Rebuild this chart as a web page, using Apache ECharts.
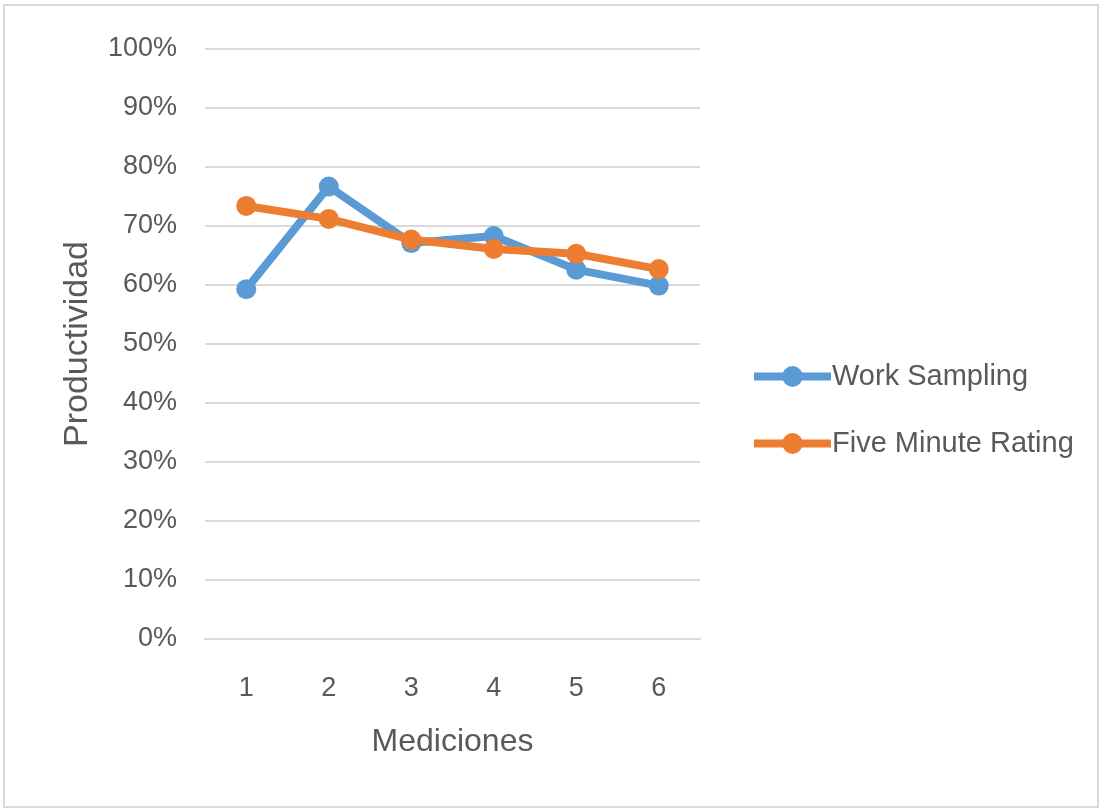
<!DOCTYPE html>
<html>
<head>
<meta charset="utf-8">
<script src="https://cdn.jsdelivr.net/npm/echarts@6/dist/echarts.min.js"></script>
<style>
  html, body { margin: 0; padding: 0; background: #fff; }
  #frame { position: absolute; left: 3px; top: 4px; width: 1096px; height: 804px; border: 2px solid #d9d9d9; box-sizing: border-box; }
  #chart { position: absolute; left: 0; top: 0; width: 1102px; height: 812px; }
</style>
</head>
<body>
<div id="frame"></div>
<div id="chart"></div>
<script>
// Productivity per measurement, two sampling methods
const mediciones = ['1', '2', '3', '4', '5', '6'];
const workSampling = [0.593, 0.767, 0.671, 0.683, 0.626, 0.599];
const fiveMinuteRating = [0.734, 0.712, 0.677, 0.661, 0.653, 0.627];

const FONT = '"Liberation Sans", Arial, sans-serif';
const TXT = '#595959';
const BLUE = '#5b9bd5';
const ORANGE = '#ed7d31';

const chart = echarts.init(document.getElementById('chart'), null, { renderer: 'canvas' });
chart.setOption({
  backgroundColor: 'transparent',
  animation: false,
  textStyle: { fontFamily: FONT, color: TXT },
  grid: { left: 205, right: 402, top: 49, bottom: 173, containLabel: false },
  legend: {
    orient: 'vertical',
    left: 745,
    top: 357,
    itemWidth: 77,
    itemHeight: 26,
    itemGap: 38,
    itemStyle: { borderWidth: 0 },
    lineStyle: { width: 8 },
    textStyle: { fontFamily: FONT, fontSize: 29, color: TXT, padding: [0, 0, 0, -4] },
    data: ['Work Sampling', 'Five Minute Rating']
  },
  xAxis: {
    type: 'category',
    data: mediciones,
    boundaryGap: true,
    name: 'Mediciones',
    nameLocation: 'middle',
    nameGap: 87,
    nameTextStyle: { fontFamily: FONT, fontSize: 32, color: TXT },
    axisLine: { show: true, lineStyle: { color: '#d9d9d9', width: 2 } },
    axisTick: { show: false },
    axisLabel: { fontFamily: FONT, fontSize: 27, color: TXT, margin: 36 }
  },
  yAxis: {
    type: 'value',
    min: 0,
    max: 1,
    interval: 0.1,
    name: 'Productividad',
    nameLocation: 'middle',
    nameGap: 110,
    nameRotate: 90,
    nameTextStyle: { fontFamily: FONT, fontSize: 34, color: TXT },
    axisLine: { show: false },
    axisTick: { show: false },
    splitLine: { lineStyle: { color: '#d9d9d9', width: 2 } },
    axisLabel: {
      fontFamily: FONT, fontSize: 27, color: TXT, margin: 28,
      formatter: v => Math.round(v * 100) + '%'
    }
  },
  series: [
    {
      name: 'Work Sampling',
      type: 'line',
      data: workSampling,
      color: BLUE,
      symbol: 'circle',
      symbolSize: 20,
      lineStyle: { width: 8, color: BLUE },
      itemStyle: { color: BLUE }
    },
    {
      name: 'Five Minute Rating',
      type: 'line',
      data: fiveMinuteRating,
      color: ORANGE,
      symbol: 'circle',
      symbolSize: 20,
      lineStyle: { width: 8, color: ORANGE },
      itemStyle: { color: ORANGE }
    }
  ]
});
</script>
</body>
</html>
